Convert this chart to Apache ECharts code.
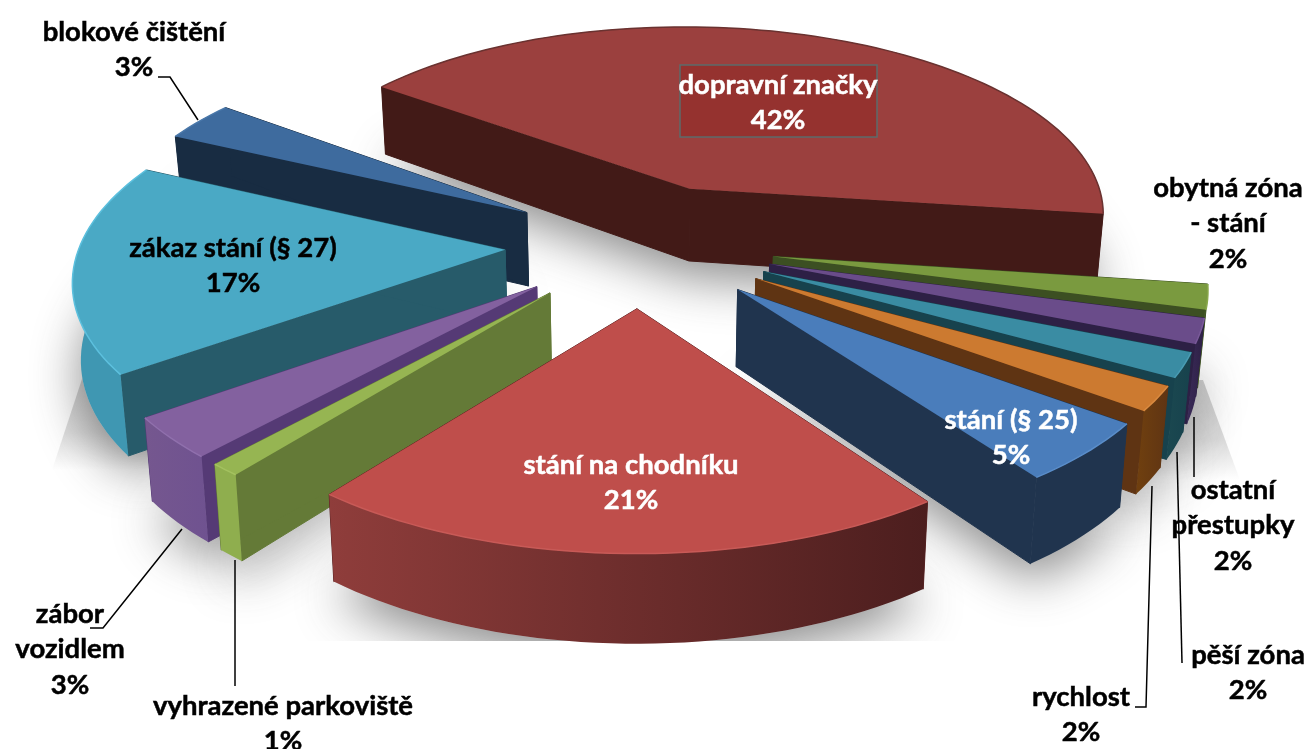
<!DOCTYPE html>
<html><head><meta charset="utf-8">
<style>html,body{margin:0;padding:0;background:#fff}#c{width:1306px;height:749px}</style>
<script src="https://cdn.jsdelivr.net/npm/echarts@6/dist/echarts.min.js"></script>
</head><body><div id="c"></div>
<script>
// Data, in pie order (clockwise from the first slice); shares are estimated from the picture, labels show them rounded
const categories = ['dopravní značky','obytná zóna\n- stání','ostatní\npřestupky','pěší zóna','rychlost','stání (§ 25)','stání na chodníku','vyhrazené parkoviště','zábor\nvozidlem','zákaz stání (§ 27)','blokové čištění'];
const values = [41.9,2,2,2,2,4.85,20.65,1,3.35,17,3.25];
const topColors = ['#9b403e','#7a9a3f','#6a4c8a','#3a8ca3','#cc7a30','#4a7dbb','#bf4e4b','#96b552','#83619f','#4aa9c5','#3e6b9e'];
const radialColors = ['#421a17','#3c4f22','#2d2045','#17424d','#5f3413','#20344e','#5a2222','#647a37','#553a75','#275b6a','#182c42'];
const arcColorsA = ['#421a17','#5a7530','#3a2a58','#1b4850','#70400f','#20344e','#8f3d3b','#8fae4e','#75578f','#3f97b2','#182c42'];
const arcColorsB = ['#421a17','#3c4f22','#2d2045','#17424d','#5f3413','#20344e','#4c1e1e','#8fae4e','#6f5290','#3f97b2','#182c42'];
const rimColors = ['#6a3230','#8aa84c','#7a5a9a','#4a9cb3','#d98a40','#5a8dc9','#c85a57','#a4c260','#9070ad','#5cc0de','#4a78aa'];
const drawOrder = [0,10,9,1,2,3,4,5,8,7,6];

// Layout constants of the projection
const P = {cx:640, cy:244, R:425, E:135, t:0.46, k:0.0003, H:75, startDeg:-53};
const total = values.reduce((a,b)=>a+b,0);
const starts = []; { let acc = P.startDeg; values.forEach(v=>{starts.push(acc); acc += v/total*360;}); }

function project(X,Y,h){
  const s = 1/(1-P.k*Y);
  const shrink = h ? 0.985 : 1;
  return [P.cx + X*s*shrink, P.cy + Y*P.t*s + h*P.H*s];
}
function sliceGeom(i){
  const a0 = starts[i]*Math.PI/180, a1 = (starts[i]+values[i]/total*360)*Math.PI/180, m=(a0+a1)/2;
  const ox = P.E*Math.sin(m), oy = -P.E*Math.cos(m);
  const arc = h => { const pts=[]; const n=Math.max(4,Math.ceil((a1-a0)/0.03));
    for(let j=0;j<=n;j++){ const a=a0+(a1-a0)*j/n; pts.push(project(ox+P.R*Math.sin(a), oy-P.R*Math.cos(a), h)); } return pts; };
  return {top:arc(0), bot:arc(1), apexTop:project(ox,oy,0), apexBot:project(ox,oy,1)};
}
function hgrad(a,b){ return new echarts.graphic.LinearGradient(0,0,1,0,[{offset:0,color:a},{offset:1,color:b}]); }

function renderShadow(params,api){
  const i = api.value(0), g = sliceGeom(i);
  return {type:'polygon', shape:{points:[g.apexBot].concat(g.bot)},
    style:{fill:'#c4c4c4', shadowBlur:50, shadowColor:'rgba(60,60,60,0.6)', shadowOffsetY:16}};
}
function renderSlice(params,api){
  const i = api.value(0), g = sliceGeom(i);
  const n = g.top.length-1;
  const kids = [];
  kids.push({type:'polygon', shape:{points:[g.apexTop,g.top[0],g.bot[0],g.apexBot]}, style:{fill:radialColors[i], stroke:radialColors[i], lineWidth:1}});
  kids.push({type:'polygon', shape:{points:[g.apexTop,g.top[n],g.bot[n],g.apexBot]}, style:{fill:radialColors[i], stroke:radialColors[i], lineWidth:1}});
  kids.push({type:'polygon', shape:{points:g.top.concat(g.bot.slice().reverse())}, style:{fill:hgrad(arcColorsA[i],arcColorsB[i])}});
  kids.push({type:'polygon', shape:{points:[g.apexTop].concat(g.top)}, style:{fill:topColors[i]}});
  kids.push({type:'polyline', shape:{points:g.top}, style:{fill:null, stroke:rimColors[i], lineWidth:1.5}});
  return {type:'group', children:kids};
}

// Label layout: one entry per category
const labelX = [778,1228,1233,1248,1081,1011,631,283,70,233,134];
const labelY = [85,188,490,655,697,420,465,706,614,248,32];
const labelFill = ['#fff','#000','#000','#000','#000','#fff','#fff','#000','#000','#000','#000'];
const labelStep = 35.5;
const leaders = [
  [[158,77],[170,77],[198,120]],
  [[90,628],[103,628],[182,529]],
  [[235,560],[235,686]],
  [[1135,707],[1146,707],[1152,486]],
  [[1182,663],[1177,452]],
  [[1194,477],[1194,417]]
];
const boxRect = {x:680,y:65,width:197,height:72};
const floorLeft = [[83,376],[52,470],[170,470],[135,376]];
const floorRight = [[1203,380],[1240,480],[1130,480],[1150,380]];

function renderLabel(params,api){
  const i = api.value(0);
  const lines = (categories[i]+'\n'+Math.round(values[i])+'%').split('\n');
  return {type:'group', children: lines.map((t,j)=>({type:'text', style:{
    text:t, x:labelX[i], y:labelY[i]+j*labelStep, align:'center', verticalAlign:'middle',
    fill:labelFill[i], stroke:labelFill[i], lineWidth:0.5, font:'bold 27.5px Lato, "Open Sans", sans-serif'}}))};
}
const ids = values.map((v,i)=>[i]);
const gradV = new echarts.graphic.LinearGradient(0,0,0,1,[{offset:0,color:'#cdcdcd'},{offset:0.6,color:'#dddddd'},{offset:1,color:'#ffffff'}]);
const chart = echarts.init(document.getElementById('c'),null,{renderer:'canvas'});
chart.setOption({
  animation:false, backgroundColor:'#fff',
  graphic:{elements:[
    {type:'polygon', z:1, shape:{points:floorLeft}, style:{fill:gradV}},
    {type:'polygon', z:1, shape:{points:floorRight}, style:{fill:gradV}},
    {type:'rect', z:5, shape:{x:0,y:641,width:1306,height:108}, style:{fill:'#fff'}},
    {type:'rect', z:30, shape:boxRect, style:{fill:'#95322f', stroke:'#5c6b6b', lineWidth:1.5}}
  ].concat(leaders.map(l=>({type:'polyline', z:60, shape:{points:l}, style:{fill:null, stroke:'#000', lineWidth:1.5}})))},
  series:[
    {type:'custom', coordinateSystem:'none', z:2, silent:true, renderItem:renderShadow, data:drawOrder.map(i=>[i])},
    {type:'custom', coordinateSystem:'none', z:10, silent:true, renderItem:renderSlice, data:drawOrder.map(i=>[i])},
    {type:'custom', coordinateSystem:'none', z:70, silent:true, renderItem:renderLabel, data:ids}
  ]
});
</script></body></html>
